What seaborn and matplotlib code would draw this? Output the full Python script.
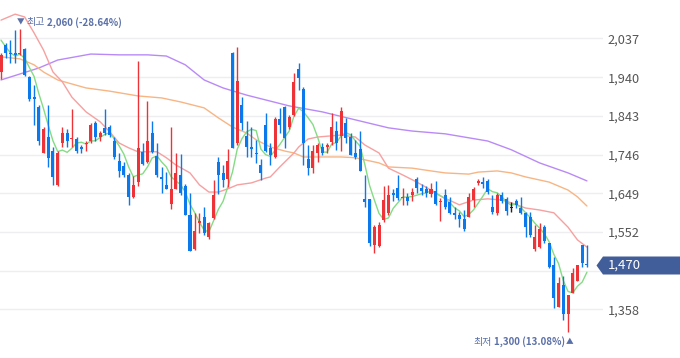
import numpy as np
import pandas as pd
import matplotlib
matplotlib.use("Agg")
import matplotlib.pyplot as plt
import seaborn as sns
from matplotlib.patches import Polygon

sns.set_theme(style="white")
plt.rcParams["font.family"] = ["Noto Sans CJK KR", "DejaVu Sans"]

# ---------------- data ----------------
opens = [1953, 2021, 2001, 2001, 1997, 2010, 1940, 1890, 1865, 1751,
         1791, 1756, 1670, 1776, 1799, 1785, 1786, 1766, 1773, 1781,
         1824, 1789, 1812, 1814, 1781, 1731, 1718, 1695, 1640, 1676,
         1753, 1728, 1799, 1742, 1690, 1670, 1621, 1660, 1695, 1666,
         1594, 1509, 1575, 1589, 1540, 1586, 1728, 1699, 1684, 2000,
         1774, 1870, 1793, 1766, 1751, 1720, 1820, 1762, 1741, 1834,
         1866, 1816, 1845, 1961, 1910, 1736, 1712, 1749, 1764, 1766,
         1778, 1806, 1793, 1826, 1789, 1751, 1759, 1634, 1634, 1519,
         1517, 1582, 1600, 1650, 1662, 1636, 1640, 1645, 1684, 1662,
         1659, 1647, 1655, 1626, 1645, 1628, 1600, 1594, 1584, 1590,
         1632, 1675, 1676, 1680, 1615, 1599, 1645, 1634, 1612, 1630,
         1612, 1600, 1590, 1509, 1515, 1564, 1524, 1469, 1365, 1419,
         1346, 1400, 1430, 1519, 1472]
highs = [2000, 2025, 2033, 2058, 2060, 2013, 1942, 1920, 1870, 1815,
         1870, 1766, 1756, 1814, 1811, 1860, 1791, 1771, 1780, 1824,
         1829, 1804, 1860, 1820, 1791, 1749, 1728, 1700, 1692, 1981,
         1776, 1881, 1831, 1774, 1716, 1703, 1814, 1749, 1747, 1672,
         1649, 1599, 1600, 1614, 1578, 1681, 1741, 1720, 1759, 2003,
         2016, 1891, 1831, 1816, 1783, 1736, 1850, 1775, 1840, 1862,
         1868, 1845, 1950, 1976, 1916, 1770, 1770, 1776, 1774, 1776,
         1850, 1829, 1866, 1838, 1799, 1783, 1806, 1695, 1634, 1570,
         1578, 1667, 1670, 1660, 1695, 1662, 1650, 1662, 1690, 1672,
         1667, 1675, 1680, 1636, 1659, 1640, 1614, 1603, 1607, 1650,
         1664, 1684, 1689, 1684, 1645, 1650, 1653, 1640, 1628, 1635,
         1640, 1603, 1603, 1570, 1575, 1570, 1524, 1490, 1440, 1442,
         1394, 1461, 1470, 1519, 1519]
lows = [1935, 1988, 1976, 1975, 1995, 1943, 1880, 1820, 1771, 1749,
        1716, 1670, 1668, 1766, 1764, 1764, 1751, 1751, 1756, 1776,
        1781, 1781, 1795, 1790, 1736, 1690, 1690, 1620, 1638, 1667,
        1720, 1724, 1749, 1690, 1649, 1659, 1609, 1659, 1645, 1594,
        1505, 1507, 1549, 1544, 1535, 1584, 1647, 1665, 1665, 1762,
        1770, 1808, 1741, 1739, 1724, 1681, 1753, 1719, 1738, 1799,
        1762, 1809, 1843, 1908, 1720, 1695, 1701, 1728, 1746, 1751,
        1770, 1757, 1756, 1776, 1745, 1734, 1706, 1615, 1517, 1500,
        1515, 1578, 1594, 1630, 1632, 1620, 1620, 1630, 1649, 1645,
        1640, 1639, 1620, 1580, 1609, 1596, 1584, 1564, 1555, 1590,
        1615, 1670, 1662, 1647, 1597, 1595, 1624, 1595, 1603, 1612,
        1598, 1540, 1539, 1505, 1512, 1525, 1462, 1361, 1363, 1331,
        1300, 1398, 1428, 1465, 1465]
closes = [1996, 2001, 1997, 1995, 2000, 1945, 1885, 1885, 1781, 1809,
          1737, 1690, 1751, 1799, 1781, 1788, 1756, 1761, 1776, 1819,
          1791, 1799, 1799, 1795, 1741, 1706, 1695, 1640, 1670, 1762,
          1722, 1781, 1753, 1695, 1686, 1660, 1659, 1699, 1649, 1594,
          1505, 1554, 1580, 1549, 1574, 1645, 1695, 1681, 1730, 1762,
          1931, 1826, 1766, 1761, 1747, 1699, 1756, 1745, 1835, 1820,
          1787, 1839, 1929, 1937, 1774, 1712, 1756, 1770, 1751, 1770,
          1816, 1774, 1856, 1787, 1745, 1741, 1706, 1626, 1525, 1565,
          1570, 1631, 1645, 1645, 1636, 1640, 1630, 1653, 1662, 1655,
          1649, 1659, 1622, 1630, 1615, 1600, 1595, 1584, 1559, 1640,
          1659, 1680, 1672, 1651, 1603, 1645, 1630, 1605, 1612, 1620,
          1600, 1565, 1544, 1539, 1559, 1530, 1465, 1386, 1423, 1346,
          1394, 1448, 1469, 1475, 1470]

# 5-day MA values before enough closes are visible
ma5_head = [2033, 2016, 2001, 1993]

# 20-day MA (candle index, value)
ma20_idx = [0, 3, 5, 7, 9, 11, 13, 15, 18, 21, 23, 25, 27, 29, 31, 33, 35, 37,
            40, 42, 44, 46, 48, 50, 53, 56, 57, 59, 62, 63, 65, 67, 70, 72,
            75, 77, 80, 82, 85, 88, 91, 93, 97, 100, 103, 106, 108, 111, 114,
            117, 120, 122, 124]
ma20_val = [2083, 2098, 2091, 2051, 2008, 1953, 1928, 1890, 1853, 1828, 1803,
            1775, 1763, 1753, 1753, 1753, 1738, 1720, 1700, 1670, 1652, 1652,
            1660, 1670, 1675, 1687, 1690, 1715, 1750, 1765, 1785, 1790, 1793,
            1795, 1790, 1770, 1750, 1712, 1695, 1677, 1657, 1642, 1620, 1632,
            1635, 1632, 1625, 1612, 1607, 1600, 1564, 1532, 1514]

# 60-day MA
ma60_idx = [0, 4, 7, 9, 12, 18, 23, 29, 34, 38, 43, 46, 49, 52, 54, 57, 60,
            62, 64, 68, 72, 75, 80, 82, 87, 91, 94, 99, 101, 105, 108, 111,
            116, 120, 122, 124]
ma60_val = [1991, 1986, 1971, 1953, 1933, 1913, 1905, 1893, 1888, 1878, 1863,
            1838, 1815, 1800, 1783, 1765, 1755, 1750, 1740, 1740, 1740, 1738,
            1725, 1715, 1712, 1705, 1700, 1697, 1702, 1705, 1700, 1690, 1677,
            1657, 1640, 1617]

# 120-day MA
ma120_idx = [0, 4, 8, 12, 19, 25, 31, 35, 39, 43, 47, 52, 56, 61, 68, 75, 82,
             87, 94, 103, 108, 114, 120, 124]
ma120_val = [1933, 1948, 1963, 1983, 1998, 1996, 1996, 1993, 1971, 1933, 1913,
             1895, 1883, 1868, 1853, 1833, 1813, 1805, 1798, 1780, 1758, 1725,
             1700, 1680]

yticks = [2037, 1940, 1843, 1746, 1649, 1552, 1455, 1358]
hidden_tick = 1455          # covered by the price badge in the reference
last_price = 1470
high_label = ("최고", "2,060 (-28.64%)")
low_label = ("최저", "1,300 (13.08%)")

# ---------------- figure ----------------
W, H = 680, 358
fig = plt.figure(figsize=(W / 100, H / 100), dpi=100)
fig.patch.set_facecolor("white")
ax = fig.add_axes([0, 0, 603 / W, 1])
ax.set_facecolor("white")

n = len(closes)
df = pd.DataFrame({"x": np.arange(n), "o": opens, "h": highs,
                   "l": lows, "c": closes})
ma5 = df["c"].rolling(5).mean()
ma5.iloc[:4] = ma5_head
df["ma5"] = ma5

RED, BLUE, BLACK = "#EE3338", "#0B78EC", "#222222"
cols = [RED if c > o else (BLUE if c < o else BLACK)
        for o, c in zip(df.o, df.c)]

# moving averages
sns.lineplot(data=pd.DataFrame({"x": ma120_idx, "y": ma120_val}), x="x", y="y",
             ax=ax, color="#B98AF7", lw=1.0, zorder=2)
sns.lineplot(data=pd.DataFrame({"x": ma60_idx, "y": ma60_val}), x="x", y="y",
             ax=ax, color="#F8B584", lw=1.0, zorder=2)
sns.lineplot(data=pd.DataFrame({"x": ma20_idx, "y": ma20_val}), x="x", y="y",
             ax=ax, color="#F7A0A0", lw=1.0, zorder=2)
sns.lineplot(data=df, x="x", y="ma5", ax=ax, color="#84DC84", lw=1.0, zorder=2)

# candles
ax.vlines(df.x, df.l, df.h, colors=cols, lw=1.0, zorder=3)
bottom = np.minimum(df.o, df.c)
height = np.maximum(np.abs(df.c - df.o), 2.5)
ax.bar(df.x, height, bottom=bottom, width=0.64, color=cols, lw=0, zorder=4)

# axes styling
ax.set_xlim(-0.21, 127.4)
ax.set_ylim(1236, 2133.5)
ax.set_yticks(yticks)
ax.set_yticklabels(["" if v == hidden_tick else f"{v:,}" for v in yticks])
ax.yaxis.tick_right()
ax.tick_params(axis="y", length=0, pad=3.5, labelsize=9.2, labelcolor="#555555")
ax.set_xticks([])
ax.grid(axis="y", color="#EEEEF1", lw=1.0, zorder=0)
ax.set_axisbelow(True)
ax.set_xlabel("")
ax.set_ylabel("")
for s in ax.spines.values():
    s.set_visible(False)

# price badge
def fx(px):
    return px / W

def fy(py):
    return 1 - py / H

badge = Polygon([(fx(596.5), fy(265.5)), (fx(603), fy(256.5)), (fx(680), fy(256.5)),
                 (fx(680), fy(274.5)), (fx(603), fy(274.5))],
                closed=True, transform=fig.transFigure, facecolor="#425E9A",
                edgecolor="none", zorder=5)
fig.patches.append(badge)
fig.text(fx(607.5), fy(265.5), f"{last_price:,}", color="white", fontsize=9.5,
         va="center", ha="left", zorder=6)

# high / low annotations
ANN = "#5A70A8"
fig.text(fx(17), fy(22.5), "▼", color=ANN, fontsize=5.5, va="center", ha="left")
fig.text(fx(26), fy(22.5), high_label[0], color=ANN, fontsize=7.2,
         va="center", ha="left")
fig.text(fx(47), fy(22.5), high_label[1], color=ANN, fontsize=7,
         fontweight="bold", va="center", ha="left")
fig.text(fx(473), fy(342), low_label[0], color=ANN, fontsize=7.2,
         va="center", ha="left")
fig.text(fx(494.5), fy(342), low_label[1], color=ANN, fontsize=7,
         fontweight="bold", va="center", ha="left")
fig.text(fx(566), fy(342), "▲", color=ANN, fontsize=5.5, va="center", ha="left")

fig.savefig("out.png", dpi=100, facecolor="white")
